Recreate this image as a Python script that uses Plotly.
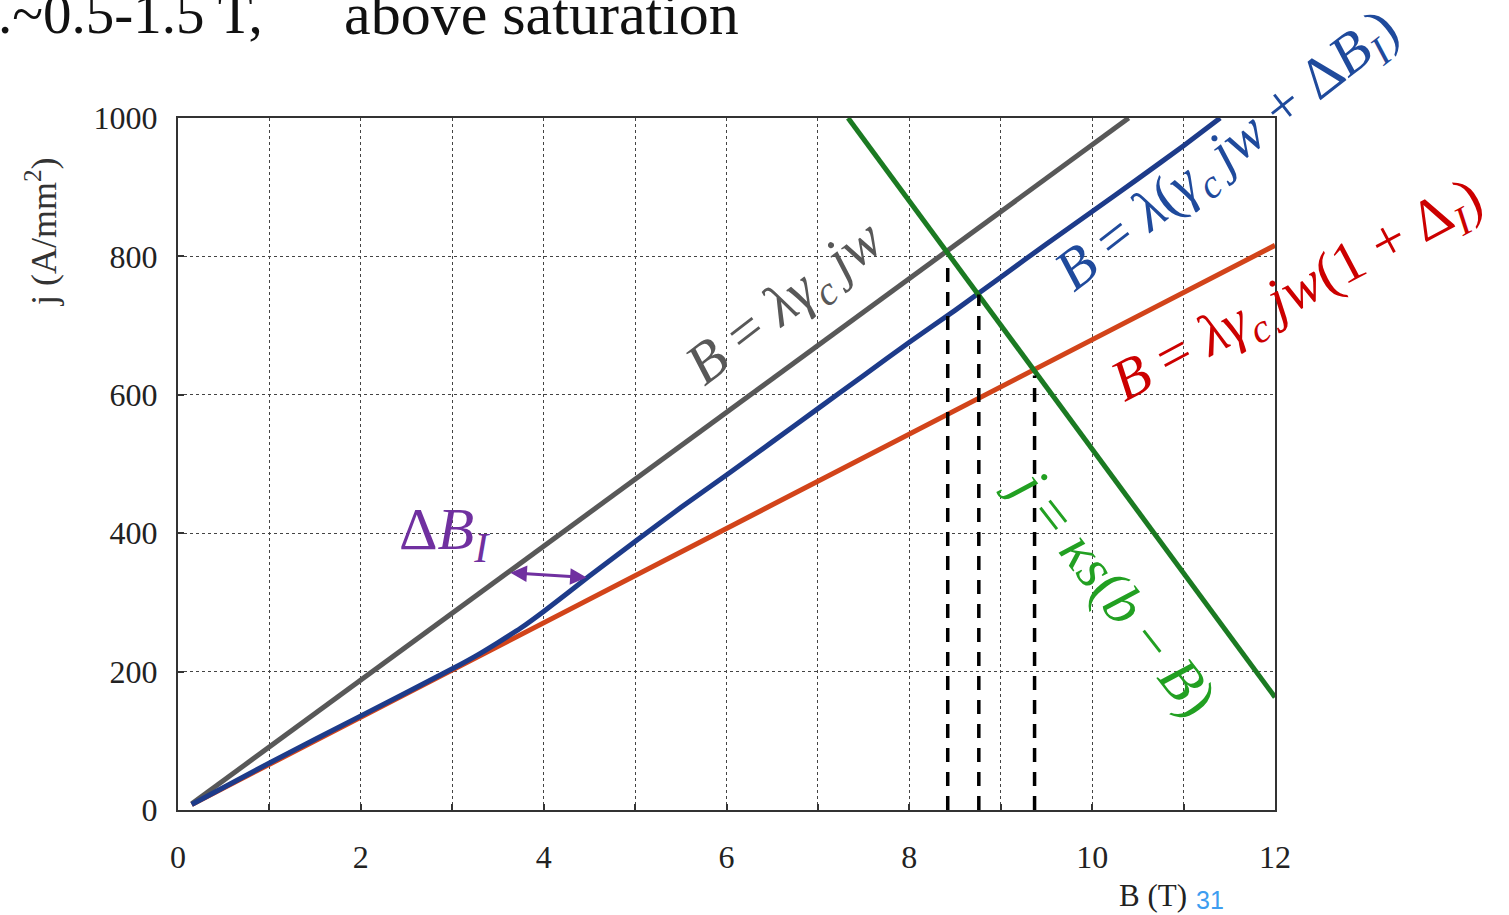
import plotly.graph_objects as go

# Load lines: j (A/mm^2) versus B (T)
b_gray = [0.15, 10.4]
j_gray = [9, 1000]

b_red = [0.15, 12.0]
j_red = [8, 816]

b_blue = [0.15, 1, 2, 3, 3.25, 3.5, 3.75, 4, 4.5, 5, 5.5, 6, 6.5, 7, 7.5, 8, 8.5, 9, 9.5, 10, 10.5, 11, 11.4]
j_blue = [8, 68, 136, 204, 222, 242, 263, 287, 338, 388, 437, 484, 532, 580, 628, 676, 722, 770, 818, 865, 912, 960, 1000]

# Short-sample / conductor line
b_green = [7.33, 12.0]
j_green = [1000, 163]

# Operating points (dashed verticals)
b_op = [8.42, 8.76, 9.37]
j_op = [790, 745, 628]

# Delta B_I arrow
arrow_b = [3.62, 4.47]
arrow_j = [343, 336]

x_ticks = list(range(0, 13))
x_labels = [str(v) if v % 2 == 0 else "" for v in x_ticks]
y_ticks = [0, 200, 400, 600, 800, 1000]

W, H = 1509, 915
L, R, T, B = 178, 234, 118, 105
PW, PH = W - L - R, H - T - B


def px(x, y):
    """Pixel position -> paper coordinates."""
    return (x - L) / PW, (H - B - y) / PH


fig = go.Figure()

line_w = 5
fig.add_trace(go.Scatter(x=b_red, y=j_red, mode="lines",
                         line=dict(color="#d2441a", width=line_w)))
fig.add_trace(go.Scatter(x=b_gray, y=j_gray, mode="lines",
                         line=dict(color="#585858", width=line_w)))
fig.add_trace(go.Scatter(x=b_blue, y=j_blue, mode="lines",
                         line=dict(color="#1d3b8a", width=line_w, shape="spline", smoothing=0.4)))
fig.add_trace(go.Scatter(x=b_green, y=j_green, mode="lines",
                         line=dict(color="#1b7a22", width=line_w)))

for bx, jy in zip(b_op, j_op):
    fig.add_trace(go.Scatter(x=[bx, bx], y=[0, jy], mode="lines",
                             line=dict(color="black", width=3.5, dash="14px,10px")))

serif = "Liberation Serif"
tick_font = dict(family=serif, size=32, color="#222222")

axis_common = dict(
    showline=True, linecolor="#333333", linewidth=2, mirror=True,
    showgrid=True, gridcolor="#444444", gridwidth=1, griddash="dot",
    ticks="inside", ticklen=6, tickcolor="#333333", tickwidth=1.5,
    zeroline=False, tickfont=tick_font,
)

fig.update_xaxes(range=[0, 12], tickmode="array", tickvals=x_ticks,
                 ticktext=x_labels, ticklabelstandoff=18, **axis_common)
fig.update_yaxes(range=[0, 1000], tickmode="array", tickvals=y_ticks,
                 ticklabelstandoff=12, **axis_common)

annotations = []

# Double-headed Delta B_I arrow
annotations.append(dict(
    x=arrow_b[1], y=arrow_j[1], ax=arrow_b[0], ay=arrow_j[0],
    xref="x", yref="y", axref="x", ayref="y", text="",
    showarrow=True, arrowhead=2, startarrowhead=2, arrowside="end+start",
    arrowsize=1.1, startarrowsize=1.1, arrowwidth=3, arrowcolor="#7030a0",
))


def label(x, y, text, size, color, angle=0, family=serif, xanchor="center"):
    xp, yp = px(x, y)
    annotations.append(dict(
        x=xp, y=yp, xref="paper", yref="paper", text=text, showarrow=False,
        textangle=angle, xanchor=xanchor, yanchor="middle",
        font=dict(family=family, size=size, color=color),
    ))


thin = "&#8201;"
gc = "<i>γ</i><sub><i>c</i></sub>" + thin
eq = 58
label(444, 533, "Δ<i>B</i><sub><i>I</i></sub>", 60, "#7030a0")
label(786, 304, "<i>B</i> = <i>λ</i>" + gc + "<i>jw</i>", eq, "#585858", angle=-37.5)
label(1228, 152, "<i>B</i> = <i>λ</i>(" + gc + "<i>jw</i> + Δ<i>B</i><sub><i>I</i></sub>)",
      eq, "#1f4a9c", angle=-38)
label(1298, 292, "<i>B</i> = <i>λ</i>" + gc + "<i>jw</i>(1 + Δ<sub><i>I</i></sub>)",
      eq, "#cc0000", angle=-28)
label(1113, 590, "<i>j</i> = <i>κs</i>(<i>b</i> − <i>B</i>)", eq, "#22a022", angle=52)

# Axis titles
label(42, 232, "j (A/mm<sup>2</sup>)", 36, "#333333", angle=-90)
label(1153, 896, "B (T)", 31, "#222222")
label(1210, 900, "31", 25, "#3d9df0", family="Liberation Sans")

# Heading line, partly cut off at the top
label(-4, 14, ".~0.5-1.5 T,", 57, "#111111", xanchor="left")
label(342, 14, "above saturation", 60, "#111111", xanchor="left")

fig.update_layout(
    width=W, height=H, autosize=False,
    margin=dict(l=L, r=R, t=T, b=B),
    paper_bgcolor="white", plot_bgcolor="white",
    showlegend=False, annotations=annotations,
)

fig.write_html("out.html")
